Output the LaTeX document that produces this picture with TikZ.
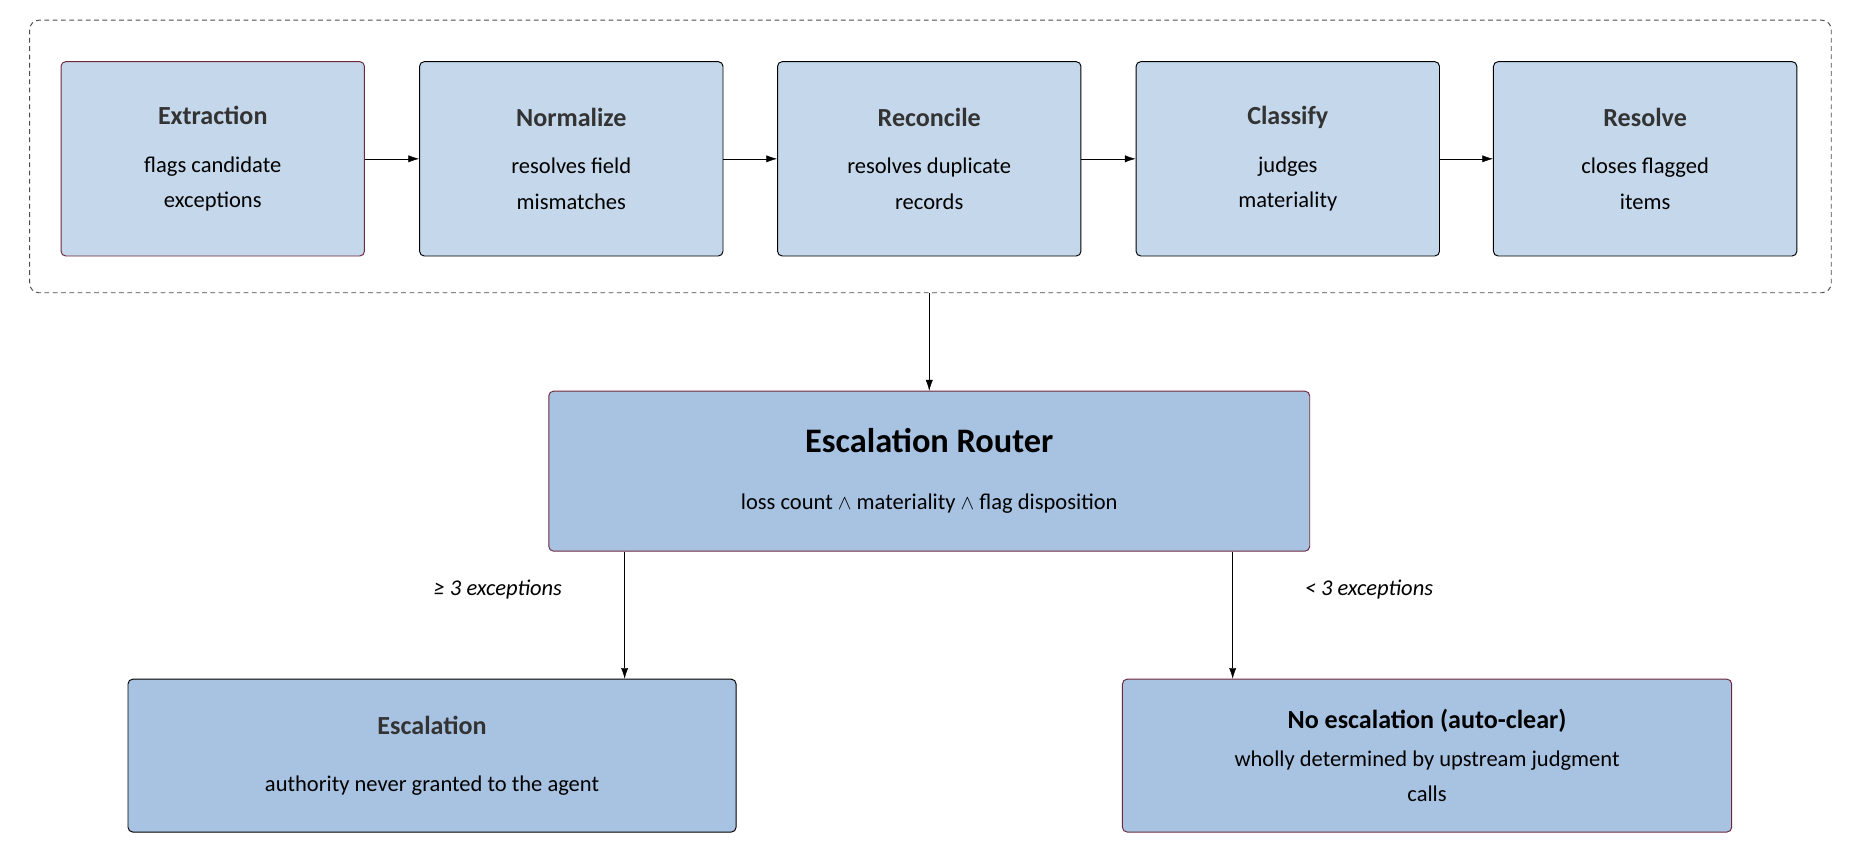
\documentclass[tikz,border=0pt]{standalone}
\usepackage{fontspec}
\setmainfont{Carlito}
\usetikzlibrary{arrows.meta}
\begin{document}
\begin{tikzpicture}[x=1pt, y=-1pt,
    stage/.style={rectangle, rounded corners=4pt, draw=black, thick, fill=stagefill,
                  minimum width=256pt, minimum height=164pt, align=center,
                  font=\fontsize{19}{30}\selectfont},
    route/.style={rectangle, rounded corners=4pt, draw=maroon, thick, fill=routefill, align=center,
                  font=\fontsize{19}{30}\selectfont},
    flow/.style={-{Latex[length=9pt,width=6pt]}, thin},
    ]

    \definecolor{stagefill}{RGB}{196,215,235}
    \definecolor{routefill}{RGB}{168,195,226}
    \definecolor{maroon}{RGB}{110,40,60}
    \definecolor{titlegrey}{RGB}{51,51,51}
    \newcommand{\ttl}[1]{{\fontsize{22}{30}\selectfont\bfseries\color{titlegrey}#1}}

    \useasboundingbox (0,0) rectangle (1560,725);

    % Pipeline
    \draw[gray!60!black, line width=0.8pt, dash pattern=on 4pt off 3pt, rounded corners=8pt] (25,17) rectangle (1545,247);
    \node[stage, draw=maroon] (extract) at (179.5,134) {\ttl{Extraction}\\[10pt]flags candidate\\exceptions};
    \node[stage] (normal) at (482,134) {\ttl{Normalize}\\[10pt]resolves field\\mismatches};
    \node[stage] (recon) at (784,134) {\ttl{Reconcile}\\[10pt]resolves duplicate\\records};
    \node[stage] (classify) at (1086.5,134) {\ttl{Classify}\\[10pt]judges\\materiality};
    \node[stage] (resolve) at (1388,134) {\ttl{Resolve}\\[10pt]closes flagged\\items};
    \coordinate (pipe) at (784,247);

    % Router and outcomes
    \node[route, minimum width=642pt, minimum height=135pt] (router) at (784,397.5)
        {{\fontsize{29}{34}\selectfont\bfseries Escalation Router}\\[18pt]loss count $\wedge$ materiality $\wedge$ flag disposition};
    \node[route, draw=black, minimum width=513pt, minimum height=129pt] (esc) at (364.5,637.5)
        {\ttl{Escalation}\\[18pt]authority never granted to the agent};
    \node[route, minimum width=514pt, minimum height=129pt] (noesc) at (1204,637.5)
        {{\fontsize{22}{30}\selectfont\bfseries No escalation (auto-clear)}\\[2pt]wholly determined by upstream judgment\\calls};

    % Arrows
    \draw[flow] (extract) -- (normal);
    \draw[flow] (normal) -- (recon);
    \draw[flow] (recon) -- (classify);
    \draw[flow] (classify) -- (resolve);
    \draw[flow] (pipe) -- (router);
    \draw[flow] (router.south -| 527,0) -- (esc.north -| 527,0);
    \draw[flow] (router.south -| 1040,0) -- (noesc.north -| 1040,0);
    \node[font=\fontsize{19}{24}\selectfont\itshape] (ge) at (420,497) {≥ 3 exceptions};
    \node[font=\fontsize{19}{24}\selectfont\itshape] (lt) at (1155,497) {< 3 exceptions};

\end{tikzpicture}
\end{document}
